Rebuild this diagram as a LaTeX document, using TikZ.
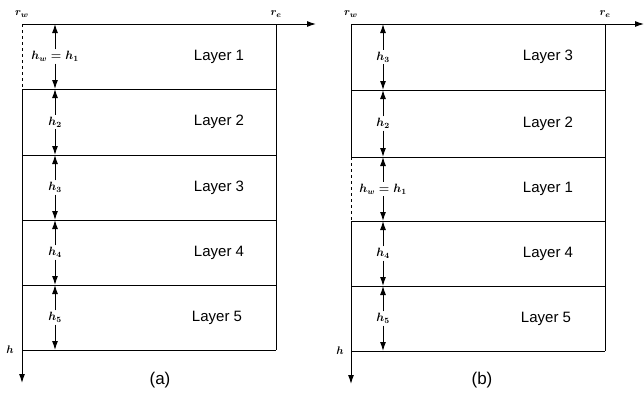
\documentclass[tikz,border=0pt]{standalone}
\usepackage{fontspec}
\setmainfont{Liberation Sans}
\usetikzlibrary{arrows.meta}
\begin{document}
\begin{tikzpicture}[x=1pt,y=-1pt,
  line width=1pt,
  arr/.style={-{Latex[length=9pt,width=6pt]}},
  lay/.style={font=\fontsize{15}{17}\selectfont},
  hl/.style={font=\fontsize{12}{13}\selectfont\boldmath, inner sep=1.5pt},
  captext/.style={font=\fontsize{17}{19}\selectfont},
  ax/.style={font=\fontsize{11}{12}\selectfont\boldmath}]
\useasboundingbox (0,0) rectangle (644,400);
% ---------- panel (a) ----------
\coordinate (aTL) at (22,24);
\coordinate (aTR) at (276,24);
\coordinate (aBL) at (22,350);
\coordinate (aBR) at (276,350);
\coordinate (aXe) at (316,24);
\coordinate (aYe) at (22,383);
\coordinate (aL1) at (22,89);
\draw[arr] (aTL) -- (aXe);
\draw[dashed] (aTL) -- (aL1);
\draw[arr] (aL1) -- (aYe);
\draw (aTR) -- (aBR);
\foreach \y/\n in {89/a1,155/a2,220/a3,285/a4,350/a5}{
  \coordinate (\n l) at (22,\y); \coordinate (\n r) at (276,\y);
  \draw (\n l) -- (\n r);
}
\node[ax] (arw) at (22,14) {$r_w$};
\node[ax] (are) at (276,14) {$r_e$};
\node[ax] (ah) at (10,350) {$h$};
% arrows
\foreach \t/\b/\lab/\nm in {24/89/{$h_w=h_1$}/ha1,89/155/{$h_2$}/ha2,155/220/{$h_3$}/ha3,220/285/{$h_4$}/ha4,285/350/{$h_5$}/ha5}{
  \node[hl] (\nm) at (55,{(\t+\b)/2}) {\lab};
  \coordinate (\nm t) at (55,\t); \coordinate (\nm b) at (55,\b);
  \draw[arr] (\nm.north) -- (\nm t);
  \draw[arr] (\nm.south) -- (\nm b);
}
\node[lay] (la1) at (219,56.5) {Layer 1};
\node[lay] (la2) at (219,122) {Layer 2};
\node[lay] (la3) at (219,187.5) {Layer 3};
\node[lay] (la4) at (219,252.5) {Layer 4};
\node[lay] (la5) at (217,317.5) {Layer 5};
\node[captext] (capa) at (160,380) {(a)};
% ---------- panel (b) ----------
\coordinate (bTL) at (351,24);
\coordinate (bTR) at (605,24);
\coordinate (bBR) at (605,351);
\coordinate (bXe) at (644,24);
\coordinate (bYe) at (351,384);
\coordinate (bL2) at (351,157);
\coordinate (bL3) at (351,221);
\draw[arr] (bTL) -- (bXe);
\draw (bTL) -- (bL2);
\draw[dashed] (bL2) -- (bL3);
\draw[arr] (bL3) -- (bYe);
\draw (bTR) -- (bBR);
\foreach \y/\n in {90/b1,157/b2,221/b3,286/b4,351/b5}{
  \coordinate (\n l) at (351,\y); \coordinate (\n r) at (605,\y);
  \draw (\n l) -- (\n r);
}
\node[ax] (brw) at (351,14) {$r_w$};
\node[ax] (bre) at (605,14) {$r_e$};
\node[ax] (bh) at (340,351) {$h$};
\foreach \t/\b/\lab/\nm in {24/90/{$h_3$}/hb1,90/157/{$h_2$}/hb2,157/221/{$h_w=h_1$}/hb3,221/286/{$h_4$}/hb4,286/351/{$h_5$}/hb5}{
  \node[hl] (\nm) at (383,{(\t+\b)/2}) {\lab};
  \coordinate (\nm t) at (383,\t); \coordinate (\nm b) at (383,\b);
  \draw[arr] (\nm.north) -- (\nm t);
  \draw[arr] (\nm.south) -- (\nm b);
}
\node[lay] (lb1) at (548,57) {Layer 3};
\node[lay] (lb2) at (548,123.5) {Layer 2};
\node[lay] (lb3) at (548,189) {Layer 1};
\node[lay] (lb4) at (548,253.5) {Layer 4};
\node[lay] (lb5) at (546,318.5) {Layer 5};
\node[captext] (capb) at (482,380) {(b)};
\end{tikzpicture}
\end{document}
